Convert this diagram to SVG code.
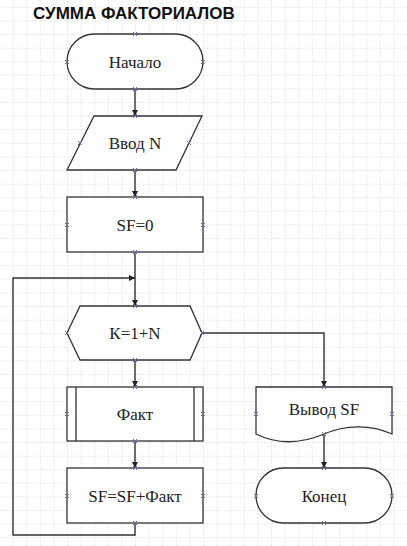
<svg xmlns="http://www.w3.org/2000/svg" xmlns:xlink="http://www.w3.org/1999/xlink" width="407" height="546" viewBox="0 0 407 546">
<defs>
<pattern id="grid" x="12.6" y="6.8" width="13.6" height="13.6" patternUnits="userSpaceOnUse">
<path d="M0,0 V13.6 M0,0 H13.6" fill="none" stroke="#cfcfcf" stroke-width="1" stroke-dasharray="2,1.4"/>
</pattern>
<marker id="arr" viewBox="0 0 8 8" refX="8" refY="4" markerWidth="6" markerHeight="6" orient="auto" markerUnits="userSpaceOnUse">
<path d="M0,0 L8,4 L0,8 Z" fill="#222"/>
</marker>
<g id="cp"><path d="M-2,-2 L2,2 M-2,2 L2,-2" stroke="#6b6ba8" stroke-width="1"/></g>
</defs>
<style>
.shape{fill:#fff;stroke:#333;stroke-width:1.3}
.conn{fill:none;stroke:#333;stroke-width:1.4}
</style>
<rect width="407" height="546" fill="#fff"/>
<rect width="407" height="546" fill="url(#grid)"/>
<text x="33" y="19" font-family="Liberation Sans, Arial, sans-serif" font-weight="bold" font-size="17" fill="#111">СУММА ФАКТОРИАЛОВ</text>

<g id="connectors">
<path class="conn" d="M135,89 V116" marker-end="url(#arr)"/>
<path class="conn" d="M135,170 V197" marker-end="url(#arr)"/>
<path class="conn" d="M135,252 V306" marker-end="url(#arr)"/>
<path class="conn" d="M135,360 V387" marker-end="url(#arr)"/>
<path class="conn" d="M135,441 V468" marker-end="url(#arr)"/>
<path class="conn" d="M135,523 V535 H13 V278 H135" marker-end="url(#arr)"/>
<path class="conn" d="M202,333 H324 V387" marker-end="url(#arr)"/>
<path class="conn" d="M324,434 V468" marker-end="url(#arr)"/>
</g>

<g font-family="Liberation Serif, Times New Roman, serif" font-size="17" fill="#222" text-anchor="middle">
<g id="start">
<rect class="shape" x="67" y="34" width="136" height="55" rx="27.5"/>
<text x="135" y="67.5">Начало</text>
<use xlink:href="#cp" x="135" y="34"/><use xlink:href="#cp" x="135" y="89"/><use xlink:href="#cp" x="67" y="62"/><use xlink:href="#cp" x="203" y="62"/>
</g>

<g id="input">
<path class="shape" d="M94,116 H202 L176,170 H67 Z"/>
<text x="135" y="148.5">Ввод N</text>
<use xlink:href="#cp" x="135" y="116"/><use xlink:href="#cp" x="135" y="170"/><use xlink:href="#cp" x="80" y="143"/><use xlink:href="#cp" x="189" y="143"/>
</g>

<g id="init">
<rect class="shape" x="67" y="197" width="136" height="55"/>
<text x="135" y="230.5">SF=0</text>
<use xlink:href="#cp" x="135" y="197"/><use xlink:href="#cp" x="135" y="252"/><use xlink:href="#cp" x="67" y="225"/><use xlink:href="#cp" x="203" y="225"/>
</g>

<g id="loop">
<path class="shape" d="M80,306 H190 L202,333 L190,360 H80 L67,333 Z"/>
<text x="135" y="338.5">К=1+N</text>
<use xlink:href="#cp" x="135" y="306"/><use xlink:href="#cp" x="135" y="360"/><use xlink:href="#cp" x="67" y="333"/><use xlink:href="#cp" x="202" y="333"/>
</g>

<g id="fact">
<rect class="shape" x="67" y="387" width="136" height="54"/>
<path class="shape" d="M76,387 V441 M194,387 V441"/>
<text x="135" y="419.5">Факт</text>
<use xlink:href="#cp" x="135" y="387"/><use xlink:href="#cp" x="135" y="441"/><use xlink:href="#cp" x="67" y="414"/><use xlink:href="#cp" x="203" y="414"/>
</g>

<g id="sum">
<rect class="shape" x="67" y="468" width="136" height="55"/>
<text x="135" y="501.5">SF=SF+Факт</text>
<use xlink:href="#cp" x="135" y="468"/><use xlink:href="#cp" x="135" y="523"/><use xlink:href="#cp" x="67" y="496"/><use xlink:href="#cp" x="203" y="496"/>
</g>

<g id="output">
<path class="shape" d="M256,387 H392 V434 C370,424 345,425 324,434 C305,442 280,446 256,434 Z"/>
<text x="324" y="414.5">Вывод SF</text>
<use xlink:href="#cp" x="324" y="387"/><use xlink:href="#cp" x="324" y="434"/><use xlink:href="#cp" x="256" y="414"/><use xlink:href="#cp" x="392" y="414"/>
</g>

<g id="end">
<rect class="shape" x="256" y="468" width="136" height="55" rx="27.5"/>
<text x="324" y="501.5">Конец</text>
<use xlink:href="#cp" x="324" y="468"/><use xlink:href="#cp" x="324" y="523"/><use xlink:href="#cp" x="256" y="496"/><use xlink:href="#cp" x="392" y="496"/>
</g>
</g>
</svg>
